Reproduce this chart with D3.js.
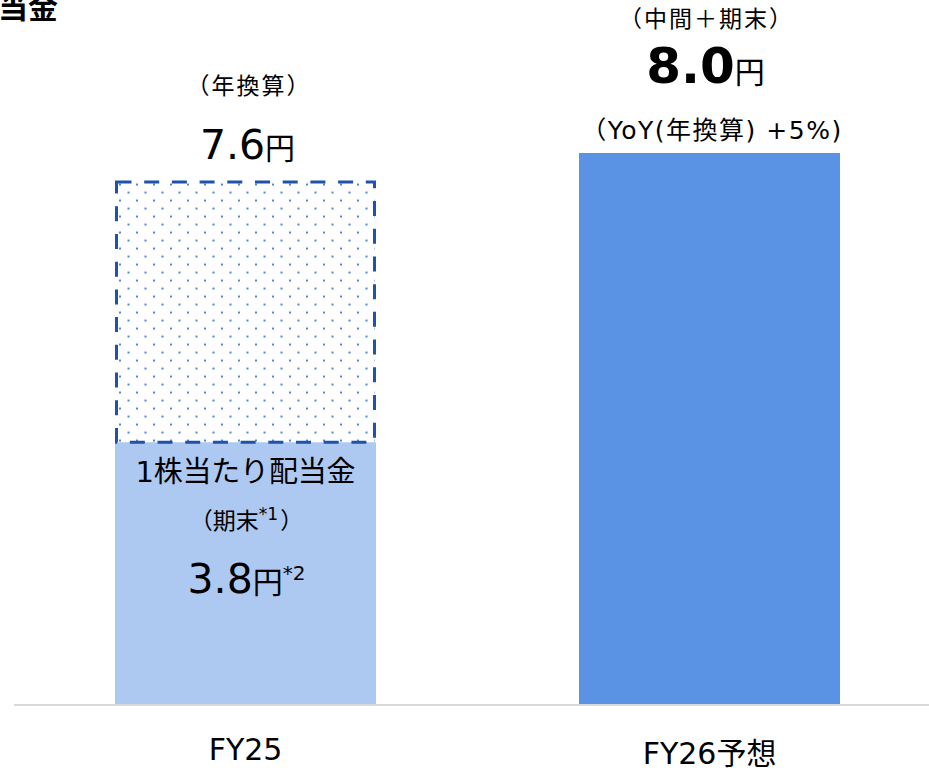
<!DOCTYPE html>
<html>
<head>
<meta charset="utf-8">
<script src="https://cdn.jsdelivr.net/npm/d3@7"></script>
<style>
  body { margin: 0; background: #fff; }
  svg { display: block; }
  text { font-family: "DejaVu Sans", "Noto Sans CJK JP", sans-serif; fill: #000; text-spacing-trim: space-all; }
</style>
</head>
<body>
<div id="chart"></div>
<script>
// data
var categories = ["FY25", "FY26予想"];
var paidValues = [3.8, 8.0];        // solid bar
var annualValues = [7.6, null];     // dotted (annualized) part, FY25 only
var barColors = ["#adc8f1", "#5a92e4"];

var width = 929, height = 772;

var svg = d3.select("#chart").append("svg")
    .attr("width", width)
    .attr("height", height);

var x = d3.scaleBand()
    .domain(categories)
    .range([13.5, 941.5])
    .paddingInner(0.4375)
    .paddingOuter(0.21875);

var y = d3.scaleLinear()
    .domain([0, 8])
    .range([704, 153]);

// dot pattern for the annualized part
var defs = svg.append("defs");
var pat = defs.append("pattern")
    .attr("id", "dots")
    .attr("patternUnits", "userSpaceOnUse")
    .attr("x", x("FY25") + 4)
    .attr("y", y(7.6) + 3)
    .attr("width", 17)
    .attr("height", 16);
pat.append("rect").attr("x", 0).attr("y", 0).attr("width", 2).attr("height", 2).attr("fill", "#5088dc");
pat.append("rect").attr("x", 8.5).attr("y", 8).attr("width", 2).attr("height", 2).attr("fill", "#5088dc");

// solid bars
svg.selectAll(".bar")
    .data(categories)
  .enter().append("rect")
    .attr("class", "bar")
    .attr("x", function(d) { return x(d); })
    .attr("width", x.bandwidth())
    .attr("y", function(d, i) { return y(paidValues[i]); })
    .attr("height", function(d, i) { return y(0) - y(paidValues[i]); })
    .attr("fill", function(d, i) { return barColors[i]; });

// dotted annualized box
svg.selectAll(".annual")
    .data(categories.filter(function(d, i) { return annualValues[i] != null; }))
  .enter().append("rect")
    .attr("class", "annual")
    .attr("x", function(d) { return x(d) + 1.5; })
    .attr("width", x.bandwidth() - 3)
    .attr("y", function(d) { var i = categories.indexOf(d); return y(annualValues[i]) + 1.5; })
    .attr("height", function(d) { var i = categories.indexOf(d); return y(paidValues[i]) - y(annualValues[i]) - 1.5; })
    .attr("fill", "url(#dots)")
    .attr("stroke", "#1f52ab")
    .attr("stroke-width", 3)
    .attr("stroke-dasharray", "15,12.7");

// baseline
svg.append("line")
    .attr("x1", 14).attr("x2", width)
    .attr("y1", y(0) + 1).attr("y2", y(0) + 1)
    .attr("stroke", "#d9d9d9")
    .attr("stroke-width", 2);

// category labels
var xAxis = d3.axisBottom(x).tickSize(0).tickPadding(0);
var gX = svg.append("g")
    .attr("transform", "translate(0," + y(0) + ")")
    .call(xAxis);
gX.select(".domain").remove();
gX.selectAll("text")
    .attr("y", function(d, i) { return i == 0 ? 56 : 60; })
    .attr("dy", 0)
    .style("font-size", "30px")
    .style("font-family", "\"DejaVu Sans\", \"Noto Sans CJK JP\", sans-serif")
    .attr("fill", "#000");

// title fragment at top-left (cut off)
svg.append("text")
    .attr("x", 58).attr("y", 18)
    .attr("text-anchor", "end")
    .style("font-size", "30px")
    .style("font-weight", "bold")
    .style("font-family", "\"Noto Sans CJK JP\"")
    .text("1株当たり配当金");

var c0 = x("FY25") + x.bandwidth() / 2;
var c1 = x("FY26予想") + x.bandwidth() / 2;

// FY25 annotations
svg.append("text").attr("x", c0 + 3.5).attr("y", y(7.6) - 87)
    .attr("text-anchor", "middle").style("font-size", "23px")
    .style("letter-spacing", "2px")
    .text("（年換算）");

var t76 = svg.append("text").attr("x", c0 + 2).attr("y", y(7.6) - 22)
    .attr("text-anchor", "middle");
t76.append("tspan").style("font-size", "41px").text(annualValues[0].toFixed(1));
t76.append("tspan").style("font-size", "30px").text("円");

svg.append("text").attr("x", c0).attr("y", y(3.8) + 40)
    .attr("text-anchor", "middle").style("font-size", "29px")
    .attr("textLength", 220).attr("lengthAdjust", "spacing")
    .text("1株当たり配当金");

var tk = svg.append("text").attr("x", c0 + 1).attr("y", y(3.8) + 87)
    .attr("text-anchor", "middle").style("font-size", "23px");
tk.append("tspan").text("（期末");
tk.append("tspan").attr("dy", -9).style("font-size", "17px").text("*1");
tk.append("tspan").attr("dy", 9).attr("dx", 2).text("）");

var t38 = svg.append("text").attr("x", c0 + 1).attr("y", y(3.8) + 151)
    .attr("text-anchor", "middle");
t38.append("tspan").style("font-size", "41px").text(paidValues[0].toFixed(1));
t38.append("tspan").style("font-size", "30px").text("円");
t38.append("tspan").attr("dy", -13).style("font-size", "20px").text("*2");

// FY26 annotations
svg.append("text").attr("x", c1 - 3).attr("y", y(8.0) - 126)
    .attr("text-anchor", "middle").style("font-size", "23px")
    .style("letter-spacing", "2px")
    .text("（中間＋期末）");

var t80 = svg.append("text").attr("x", c1 - 4).attr("y", y(8.0) - 70)
    .attr("text-anchor", "middle");
t80.append("tspan").style("font-size", "50px").style("font-weight", "bold").text(paidValues[1].toFixed(1));
t80.append("tspan").style("font-size", "30px").text("円");

svg.append("text").attr("x", c1 + 2.5).attr("y", y(8.0) - 14)
    .attr("text-anchor", "middle").style("font-size", "25px")
    .style("letter-spacing", "1.5px")
    .text("（YoY(年換算) +5%)");
</script>
</body>
</html>
